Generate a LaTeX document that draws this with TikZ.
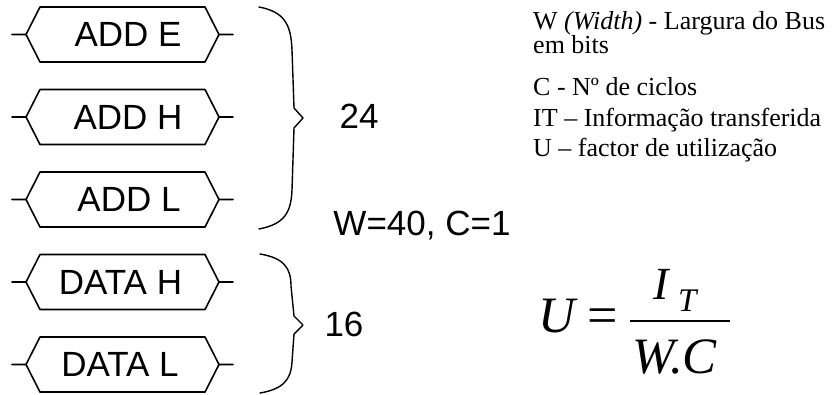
\documentclass[tikz,border=0pt]{standalone}
\usepackage{fontspec}
\setmainfont{Liberation Serif}
\newfontfamily\arialfont{Liberation Sans}
\begin{document}
\begin{tikzpicture}[x=1pt, y=-1pt, line cap=round, line join=round,
  buslabel/.style={inner sep=0pt, font=\arialfont\fontsize{35}{42}\selectfont},
  sizelabel/.style={inner sep=0pt, font=\arialfont\fontsize{35}{42}\selectfont},
  note/.style={inner sep=0pt, anchor=base west, font=\fontsize{26}{30}\selectfont},
  formula/.style={inner sep=0pt, anchor=base west, font=\fontsize{51}{60}\selectfont},
  busbox/.style={line width=1.6pt},
  brace/.style={line width=1.4pt}]
  \useasboundingbox (0,0) rectangle (840,394);
  % Bus fields: hexagonal boxes with a short lead on each side.
  \foreach \name/\txt/\y/\tx in {adde/ADD E/34.5/128, addh/ADD H/117/128, addl/ADD L/199.5/129,
      datah/DATA H/282/120.5, datal/DATA L/364.5/120} {
    \node[buslabel] (\name) at (\tx,\y) {\txt};
    \draw[busbox, shift={(122.5,\y)}] (-110.5,0) -- (-96.5,0) -- (-82.5,-27.5) -- (82.5,-27.5) -- (96.5,0) -- (110.5,0)
      (96.5,0) -- (82.5,27.5) -- (-82.5,27.5) -- (-96.5,0);
  }
  % Braces grouping the address and data fields.
  \draw[brace] (259,7) .. controls (285,12) and (291,25) .. (292,50) -- (294,108) -- (303,118)
    -- (294,128) -- (292,190) .. controls (291,212) and (285,224) .. (259,229);
  \draw[brace] (260,254) .. controls (284,258) and (291,268) .. (291,286) -- (294,316) -- (303,325)
    -- (294,334) -- (292,362) .. controls (291,380) and (283,389) .. (260,393);
  \node[sizelabel] (addbits) at (359,116) {24};
  \node[sizelabel, anchor=base] (buswidth) at (422,235) {W=40, C=1};
  \node[sizelabel] (databits) at (344,324) {16};
  % Legend.
  \node[note] (wnote) at (533,29) {W \textit{(Width)} - Largura do Bus};
  \node[note] (wnotetwo) at (533,53.5) {em bits};
  \node[note] (cnote) at (533,95) {C - Nº de ciclos};
  \node[note] (itnote) at (533,126) {IT – Informação transferida};
  \node[note] (unote) at (533,156) {U – factor de utilização};
  % Utilisation formula.
  \node[formula] (u) at (538,332) {\textit{U}};
  \node[formula, font=\fontsize{54}{60}\selectfont] (eq) at (587,333) {=};
  \node[formula, font=\fontsize{46}{52}\selectfont] (inum) at (653,299) {\textit{I}};
  \node[formula, font=\fontsize{33}{38}\selectfont] (tsub) at (678,311) {\textit{T}};
  \coordinate (barl) at (630,321);
  \coordinate (barr) at (730,321);
  \draw[line width=2pt, line cap=butt] (barl) -- (barr);
  \node[formula] (wc) at (632,373) {\textit{W.C}};
\end{tikzpicture}
\end{document}
